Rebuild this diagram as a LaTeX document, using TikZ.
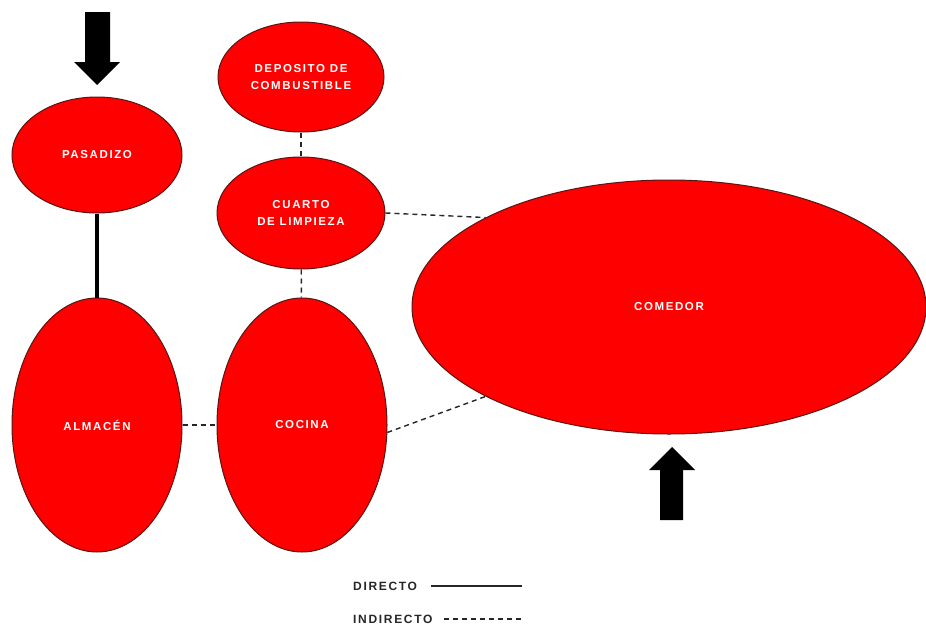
\documentclass[tikz,border=0pt]{standalone}
\usepackage{fontspec}
\setmainfont{Liberation Sans}
\usetikzlibrary{shapes.geometric}
\definecolor{roomred}{RGB}{255,0,0}
\definecolor{roomedge}{RGB}{90,20,20}
\tikzset{
  room/.style={ellipse, fill=roomred, draw=roomedge, line width=1pt, inner sep=0pt,
    text=white, font=\bfseries\fontsize{11.5}{17}\selectfont\addfontfeature{LetterSpace=14}, align=center},
  direct/.style={line width=3.2pt, black},
  indirect/.style={line width=1.4pt, black!85, dash pattern=on 5pt off 4pt},
  legendtext/.style={font=\bfseries\fontsize{12}{14}\selectfont\addfontfeature{LetterSpace=14}, text=black!85, anchor=west, inner sep=0pt},
  bigarrow/.style={fill=black, draw=none}
}
\begin{document}
\begin{tikzpicture}[x=1pt,y=-1pt]
\useasboundingbox (0,0) rectangle (926,629);
\fill[white] (0,0) rectangle (926,629);

\node[room, minimum width=170pt, minimum height=116pt] (pasadizo) at (97,155) {PASADIZO};
\node[room, minimum width=166pt, minimum height=110pt] (deposito) at (301,77) {DEPOSITO DE\\COMBUSTIBLE};
\node[room, minimum width=168pt, minimum height=112pt] (cuarto) at (301,213) {CUARTO\\DE LIMPIEZA};
\node[room, minimum width=514pt, minimum height=254pt] (comedor) at (669,307) {COMEDOR};
\node[room, minimum width=170pt, minimum height=254pt] (almacen) at (97,425) {ALMACÉN};
\node[room, minimum width=170pt, minimum height=254pt] (cocina) at (302,425) {COCINA};

\draw[direct] (pasadizo) -- (almacen);
\draw[indirect] (deposito) -- (cuarto);
\draw[indirect] (cuarto) -- (cocina);
\draw[indirect] (almacen) -- (cocina);
\draw[indirect] (cuarto.east) -- (comedor.154);
\draw[indirect] (cocina.-5) -- (comedor.206);

% entrance arrows
\fill[bigarrow] (85,12) -- (110,12) -- (110,62) -- (120,62) -- (97,85) -- (74,62) -- (85,62) -- cycle;
\fill[bigarrow] (660,520) -- (683,520) -- (683,470) -- (695,470) -- (672,447) -- (649,470) -- (660,470) -- cycle;

% legend
\node[legendtext] (ldir) at (353,586) {DIRECTO};
\coordinate (ldirA) at (431,586);
\coordinate (ldirB) at (522,586);
\draw[line width=1.5pt, black!85] (ldirA) -- (ldirB);
\node[legendtext] (lind) at (353,619) {INDIRECTO};
\coordinate (lindA) at (444,619);
\coordinate (lindB) at (522,619);
\draw[indirect] (lindA) -- (lindB);
\end{tikzpicture}
\end{document}
